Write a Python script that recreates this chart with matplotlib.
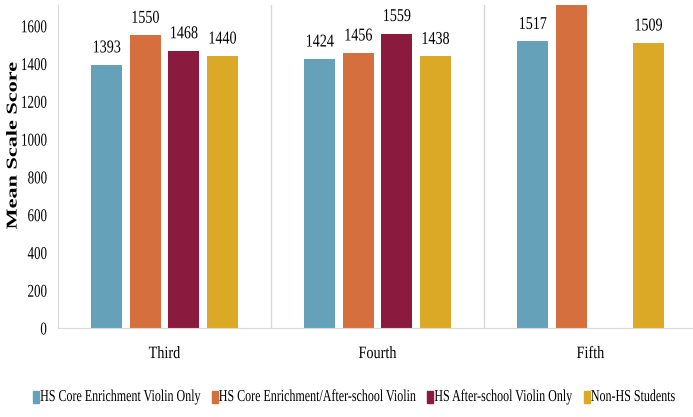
import numpy as np
import matplotlib.pyplot as plt
from matplotlib.patches import Rectangle
from matplotlib.patheffects import AbstractPathEffect
from matplotlib.path import Path
from matplotlib.transforms import Affine2D

# Mean scale scores by grade and program group
grades = ["Third", "Fourth", "Fifth"]
series_names = [
    "HS Core Enrichment Violin Only",
    "HS Core Enrichment/After-school Violin",
    "HS After-school Violin Only",
    "Non-HS Students",
]
core_only = [1393, 1424, 1517]
core_after = [1550, 1456, 1745]
after_only = [1468, 1559, np.nan]
non_hs = [1440, 1438, 1509]

colors = ["#66A1BA", "#D56F3E", "#8B1A3F", "#DBA926"]


class Squeeze(AbstractPathEffect):
    """Narrow a text horizontally about its left, centre or right edge."""

    def __init__(self, sx, anchor="center"):
        super().__init__()
        self.sx = sx
        self.anchor = anchor

    def draw_path(self, renderer, gc, tpath, affine, rgbFace=None):
        verts = tpath.vertices
        if tpath.codes is not None:
            verts = verts[tpath.codes != Path.CLOSEPOLY]
        xs = affine.transform(verts)[:, 0]
        if self.anchor == "left":
            x0 = xs.min()
        elif self.anchor == "right":
            x0 = xs.max()
        else:
            x0 = 0.5 * (xs.min() + xs.max())
        squeeze = Affine2D().translate(-x0, 0).scale(self.sx, 1).translate(x0, 0)
        renderer.draw_path(gc, tpath, affine + squeeze, rgbFace)


plt.rcParams["font.family"] = ["Liberation Serif", "DejaVu Serif"]

W, H = 693, 417
fig = plt.figure(figsize=(W / 100, H / 100), dpi=100)
ax = fig.add_axes([58 / W, 89 / H, 639 / W, 323 / H])

ymax = 1710
x = np.arange(len(grades))
width = 0.145
step = 0.181
offsets = (np.arange(4) - 1.5) * step

for i, (vals, col) in enumerate(zip([core_only, core_after, after_only, non_hs], colors)):
    vals = np.array(vals, dtype=float)
    ax.bar(x + offsets[i], np.nan_to_num(vals), width, color=col)
    for xi, v in zip(x + offsets[i], vals):
        if np.isnan(v) or v + 60 > ymax:
            continue
        ax.text(xi, v + 45, f"{v:.0f}", ha="center", va="bottom", fontsize=13,
                path_effects=[Squeeze(0.78)])

ax.set_xlim(-0.5, 2.5)
ax.set_ylim(0, ymax)
ax.set_yticks(range(0, 1601, 200))
ax.set_xticks(x)
ax.set_xticklabels(grades)
ax.tick_params(axis="y", labelsize=13, length=0, pad=8)
ax.tick_params(axis="x", labelsize=12.5, length=0, pad=13)
for lab in ax.get_yticklabels():
    lab.set_path_effects([Squeeze(0.72, "right")])
for lab in ax.get_xticklabels():
    lab.set_path_effects([Squeeze(0.82)])

# light separators between grade groups
for b in [0.5, 1.5]:
    ax.axvline(b, color="#D9D9D9", lw=1, zorder=0)
for side in ["top", "right"]:
    ax.spines[side].set_visible(False)
ax.spines["left"].set_color("#D9D9D9")
ax.spines["bottom"].set_color("#D9D9D9")

ax.set_ylabel("Mean Scale Score", fontsize=16, fontweight="bold", va="center",
              path_effects=[Squeeze(0.68)])
ax.yaxis.set_label_coords(-44 / 639, 0.565)

# legend row built by hand so the narrowed labels sit tight together
leg_sx = 0.72
leg_y = 397
fig.canvas.draw()
renderer = fig.canvas.get_renderer()
xpos = 33
for name, col in zip(series_names, colors):
    fig.add_artist(Rectangle((xpos / W, (H - leg_y - 6) / H), 6 / W, 12 / H,
                             transform=fig.transFigure, color=col))
    t = fig.text((xpos + 7) / W, (H - leg_y) / H, name, fontsize=12,
                 ha="left", va="center", path_effects=[Squeeze(leg_sx, "left")])
    tw = t.get_window_extent(renderer).width * leg_sx
    xpos += 7 + tw + 12

fig.savefig("out.png", dpi=100)
